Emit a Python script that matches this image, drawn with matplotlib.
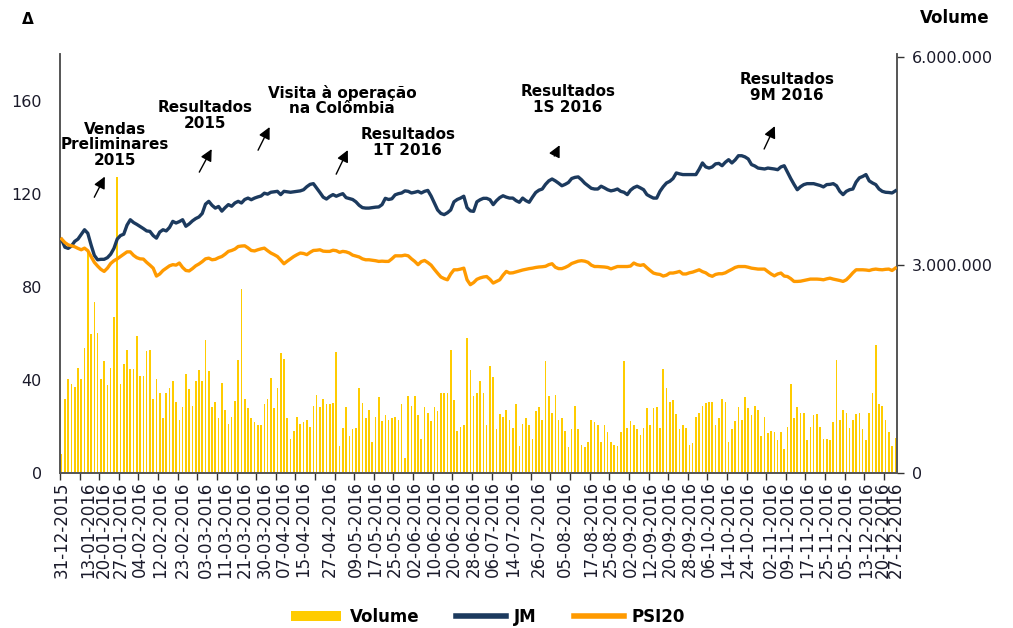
import matplotlib
matplotlib.use("Agg")
import matplotlib.pyplot as plt
from matplotlib.patches import Patch
from matplotlib.lines import Line2D
from matplotlib.ticker import FuncFormatter, FixedLocator
import pandas as pd

plt.rcParams['font.family'] = ['DejaVu Sans']

# ---- trading days (Euronext Lisbon) ----
start_date = "2015-12-31"
end_date = "2016-12-27"
holidays = ["2016-01-01", "2016-03-25", "2016-12-26"]

tick_dates = ["31-12-2015", "13-01-2016", "20-01-2016", "27-01-2016", "04-02-2016",
              "12-02-2016", "23-02-2016", "03-03-2016", "11-03-2016", "21-03-2016",
              "30-03-2016", "07-04-2016", "15-04-2016", "27-04-2016", "09-05-2016",
              "17-05-2016", "25-05-2016", "02-06-2016", "10-06-2016", "20-06-2016",
              "28-06-2016", "06-07-2016", "14-07-2016", "26-07-2016", "05-08-2016",
              "17-08-2016", "25-08-2016", "02-09-2016", "12-09-2016", "20-09-2016",
              "28-09-2016", "06-10-2016", "14-10-2016", "24-10-2016", "02-11-2016",
              "09-11-2016", "17-11-2016", "25-11-2016", "05-12-2016", "13-12-2016",
              "20-12-2016", "27-12-2016"]

jm = [100.2, 97.0, 96.5, 97.5, 99.5, 100.5, 102.5, 104.5, 103.0, 98.0,
      93.5, 91.6, 91.8, 91.8, 92.5, 94.0, 96.5, 100.5, 102.0, 102.6,
      106.5, 108.8, 107.6, 106.8, 105.9, 105.0, 104.0, 103.8, 102.0, 100.9,
      103.5, 104.5, 104.0, 105.5, 108.1, 107.4, 108.0, 108.8, 106.0, 107.0,
      108.3, 109.3, 110.0, 111.5, 115.5, 116.7, 115.0, 113.8, 114.5, 112.5,
      114.0, 115.3, 114.6, 116.0, 116.7, 116.0, 117.5, 118.1, 117.4, 118.1,
      118.6, 119.0, 120.2, 119.8, 120.6, 120.8, 121.0, 119.6, 121.0, 120.8,
      120.6, 120.8, 121.0, 121.2, 121.7, 123.0, 124.0, 124.3, 122.4, 120.5,
      118.5, 117.7, 118.8, 119.6, 118.9, 119.5, 120.0, 118.3, 117.9, 117.5,
      116.5, 115.0, 114.0, 113.8, 113.8, 114.0, 114.2, 114.3, 115.3, 118.0,
      117.5, 117.8, 119.5, 120.0, 120.3, 121.2, 121.0, 120.3, 120.6, 121.0,
      120.3, 121.0, 121.4, 119.0, 116.0, 113.0, 111.5, 111.0, 111.8, 113.0,
      116.5, 117.5, 118.1, 118.9, 114.0, 112.6, 112.4, 116.5, 117.4, 118.0,
      118.0, 117.4, 115.3, 117.0, 118.3, 119.1, 118.5, 118.1, 118.1, 117.0,
      116.3, 118.1, 117.0, 116.3, 118.5, 120.5, 121.5, 122.0, 124.0, 125.5,
      126.3, 125.5, 124.5, 123.4, 124.0, 124.8, 126.5, 127.0, 127.2, 126.0,
      124.5, 123.4, 122.3, 122.0, 122.0, 123.2, 122.5, 121.7, 121.2, 121.5,
      122.0, 121.0, 120.6, 119.6, 121.5, 122.6, 123.2, 122.5, 121.7, 119.6,
      118.8, 118.1, 118.1, 121.0, 123.0, 124.6, 125.3, 126.5, 128.9, 128.5,
      128.2, 128.2, 128.2, 128.2, 128.2, 130.5, 133.2, 131.5, 131.0, 131.5,
      132.8, 133.0, 132.0, 133.5, 134.6, 133.2, 134.5, 136.3, 136.3, 135.8,
      134.9, 132.5, 131.9, 131.0, 130.8, 130.6, 131.0, 130.8, 130.6, 130.3,
      131.5, 132.0, 129.2, 126.5, 124.0, 121.7, 123.0, 123.9, 124.3, 124.3,
      124.3, 123.9, 123.5, 122.9, 123.9, 124.0, 124.3, 123.4, 121.0, 119.6,
      121.0, 121.7, 122.0, 125.0, 126.8, 127.4, 128.2, 125.5, 124.6, 123.9,
      122.0, 121.0, 120.6, 120.5, 120.3, 121.2]

psi20 = [100.5, 99.0, 98.0, 97.6, 97.2, 96.5, 95.9, 96.6, 95.5, 93.0,
         90.5, 88.9, 87.5, 86.6, 88.0, 90.0, 91.2, 92.0, 93.0, 94.0,
         95.0, 95.0, 93.5, 92.5, 92.0, 91.9, 90.5, 89.3, 88.0, 84.6,
         85.5, 87.0, 88.0, 89.0, 89.5, 89.3, 90.2, 88.3, 87.0, 86.8,
         87.8, 89.0, 89.8, 90.8, 92.0, 92.3, 91.6, 91.8, 92.5, 93.0,
         94.0, 95.2, 95.6, 96.2, 97.3, 97.5, 97.6, 96.7, 95.6, 95.4,
         95.9, 96.3, 96.6, 95.5, 94.5, 93.8, 93.0, 91.5, 89.9, 91.0,
         92.0, 93.0, 93.8, 94.5, 94.3, 93.8, 94.8, 95.6, 95.7, 95.9,
         95.3, 95.2, 95.2, 95.7, 95.5, 94.8, 95.2, 95.0, 94.5, 93.6,
         93.2, 92.8, 92.0, 91.6, 91.6, 91.4, 91.2, 90.9, 91.0, 90.9,
         90.9, 92.0, 93.3, 93.3, 93.3, 93.6, 93.3, 92.0, 90.9, 89.5,
         90.8, 91.3, 90.4, 89.3, 87.5, 85.8, 84.2, 83.5, 83.0, 85.5,
         87.3, 87.3, 87.6, 88.0, 83.0, 80.9, 81.8, 83.2, 83.8, 84.2,
         84.4, 83.2, 81.6, 82.3, 83.0, 85.0, 86.6, 85.9, 86.0, 86.4,
         86.8, 87.2, 87.5, 87.8, 88.0, 88.3, 88.5, 88.6, 88.8, 89.5,
         89.9, 88.4, 87.8, 87.8, 88.3, 89.0, 90.0, 90.5, 91.0, 91.2,
         91.0, 90.5, 89.3, 88.7, 88.7, 88.6, 88.5, 88.3, 87.7, 88.2,
         88.7, 88.7, 88.7, 88.7, 88.9, 90.2, 89.5, 89.2, 89.5, 88.2,
         87.0, 85.9, 85.5, 85.3, 84.6, 85.0, 85.9, 85.9, 86.2, 86.6,
         85.5, 85.5, 86.0, 86.3, 86.8, 87.3, 86.5, 86.0, 85.0, 84.5,
         85.3, 85.6, 85.6, 86.0, 86.8, 87.5, 88.3, 88.7, 88.7, 88.7,
         88.4, 88.0, 87.8, 87.6, 87.6, 87.6, 86.5, 85.5, 84.7, 85.5,
         85.9, 84.6, 84.4, 83.5, 82.3, 82.3, 82.4, 82.7, 83.0, 83.3,
         83.3, 83.3, 83.2, 83.0, 83.4, 83.7, 83.3, 83.0, 82.7, 82.3,
         83.0, 84.4, 86.0, 87.3, 87.3, 87.3, 87.2, 87.0, 87.4, 87.6,
         87.4, 87.3, 87.5, 87.6, 87.0, 88.0]

# volume in millions of shares
volume_m = [0.28, 1.07, 1.35, 1.28, 1.24, 1.52, 1.35, 1.80, 3.19, 2.00,
            2.47, 2.02, 1.35, 1.61, 1.27, 1.52, 2.25, 4.26, 1.28, 1.57,
            1.78, 1.50, 1.50, 1.98, 1.40, 1.40, 1.76, 1.78, 1.07, 1.35,
            1.16, 0.79, 1.15, 1.22, 1.33, 1.03, 0.77, 0.95, 1.42, 1.21,
            0.97, 1.33, 1.49, 1.33, 1.92, 1.47, 0.95, 1.02, 0.79, 1.30,
            0.91, 0.71, 0.81, 1.04, 1.63, 2.65, 1.07, 0.93, 0.79, 0.73,
            0.69, 0.69, 0.99, 1.07,
            1.37, 0.93, 1.23, 1.73, 1.64, 0.79, 0.49, 0.61, 0.81, 0.71,
            0.73, 0.77, 0.67, 0.97, 1.12, 0.95, 1.07, 0.99, 0.99, 1.01,
            1.75, 0.39, 0.65, 0.95, 0.53, 0.63, 0.65, 1.23, 1.01, 0.79,
            0.91, 0.45, 0.81, 1.09, 0.75, 0.83, 0.77, 0.79, 0.81, 0.77,
            0.99, 0.21, 1.11, 0.97, 1.11, 0.83, 0.49, 0.95, 0.87, 0.75,
            0.95, 0.89, 1.15, 1.15, 1.15, 1.78, 1.05, 0.61, 0.67, 0.69,
            1.94, 1.49, 1.11, 1.15,
            1.33, 1.15, 0.69, 1.54, 1.38, 0.63, 0.85, 0.81, 0.91, 0.77,
            0.65, 0.99, 0.39, 0.71, 0.79, 0.69, 0.49, 0.89, 0.95, 0.77,
            1.61, 1.11, 0.87, 1.12, 0.77, 0.79, 0.61, 0.37, 0.63, 0.97,
            0.63, 0.41, 0.37, 0.45, 0.77, 0.73, 0.69, 0.45, 0.69, 0.59,
            0.45, 0.41, 0.39, 0.59, 1.61, 0.65, 0.75, 0.69, 0.63, 0.55,
            0.65, 0.93, 0.69, 0.93, 0.95, 0.65, 1.50, 1.23, 1.03, 1.05,
            0.85, 0.63, 0.69, 0.65,
            0.41, 0.43, 0.81, 0.87, 0.97, 1.01, 1.03, 1.03, 0.69, 0.79,
            1.07, 1.03, 0.45, 0.63, 0.75, 0.95, 0.77, 1.09, 0.93, 0.83,
            0.97, 0.91, 0.53, 0.81, 0.57, 0.61, 0.59, 0.47, 0.59, 0.35,
            0.67, 1.28, 0.79, 0.95, 0.87, 0.87, 0.47, 0.67, 0.83, 0.85,
            0.67, 0.49, 0.49, 0.47, 0.73, 1.63, 0.77, 0.91, 0.87, 0.65,
            0.77, 0.85, 0.87, 0.63, 0.47, 0.87, 1.16, 1.84, 0.99, 0.97,
            0.77, 0.59, 0.39, 0.51]

left_ticks = [0, 40, 80, 120, 160]
right_ticks_m = [0, 3, 6]

C_JM = "#1c3a5e"
C_PSI = "#ff9a00"
C_VOL = "#ffcc00"
C_TXT = "#1a1a2a"

dates = pd.bdate_range(start_date, end_date, freq="C", holidays=holidays)
n = len(dates)
xs = list(range(n))
date_index = {d.strftime("%d-%m-%Y"): i for i, d in enumerate(dates)}
tick_pos = [date_index[t] for t in tick_dates]

fig = plt.figure(figsize=(10.13, 6.28), dpi=100)
ax = fig.add_axes([60 / 1013, 1 - 473 / 628, 837 / 1013, 419 / 628])
axv = ax.twinx()

# volume bars (right axis)
axv.bar(xs, volume_m, width=0.5, color=C_VOL, edgecolor="none", zorder=1)
axv.set_ylim(0, 6.04)
axv.yaxis.set_major_locator(FixedLocator(right_ticks_m))
axv.yaxis.set_major_formatter(FuncFormatter(lambda v, p: f"{v * 1e6:,.0f}".replace(",", ".")))

# lines (left axis) on top
ax.set_zorder(axv.get_zorder() + 1)
ax.patch.set_visible(False)
ax.plot(xs, jm, color=C_JM, lw=2.4, solid_joinstyle="round", zorder=3)
ax.plot(xs, psi20, color=C_PSI, lw=2.4, solid_joinstyle="round", zorder=3)
ax.set_ylim(0, 180)
ax.set_yticks(left_ticks)
ax.set_xlim(-0.5, n - 0.5)

# x ticks: labels at dates, tick marks every 6 trading days
ax.set_xticks(tick_pos)
ax.set_xticklabels(tick_dates, rotation=90, fontsize=12, color=C_TXT)
ax.tick_params(axis="x", which="major", length=0, pad=6)
ax.set_xticks([k - 0.5 for k in range(0, n + 1, 6)], minor=True)
ax.tick_params(axis="x", which="minor", length=5, width=1, color="#333333", direction="out")

ax.tick_params(axis="y", labelsize=11.5, labelcolor=C_TXT, length=0, pad=13)
axv.tick_params(axis="y", labelsize=11.5, labelcolor=C_TXT, length=5, width=1,
                color="#333333", pad=6)

for a in (ax, axv):
    a.spines["top"].set_visible(False)
    for s in ("left", "right", "bottom"):
        a.spines[s].set_color("#555555")
        a.spines[s].set_linewidth(1.2)

# annotations
ann_kw = dict(fontsize=11, fontweight="bold", color="black", ha="center", va="center",
              linespacing=1.05)
arrow_kw = dict(arrowstyle="-|>,head_length=0.7,head_width=0.35", color="black", lw=1)

events = [
    ("Vendas\nPreliminares\n2015", (16.3, 141.0), (9.6, 117.4), (13.6, 128.4), "center"),
    ("Resultados\n2015", (43.8, 153.5), (41.7, 128.2), (46.3, 140.2), "center"),
    ("Visita à operação\nna Colômbia", (63.1, 160.0), (59.7, 137.6), (64.0, 149.7), "left"),
    ("Resultados\n1T 2016", (105.9, 141.9), (83.6, 127.3), (87.9, 139.8), "center"),
    ("Resultados\n1S 2016", (154.9, 160.4), (150.3, 135.1), (152.7, 141.9), "center"),
    ("Resultados\n9M 2016", (221.8, 165.6), (214.5, 138.1), (218.5, 150.1), "center"),
]
for txt, tpos, tail, head, ha in events:
    kw = dict(ann_kw)
    kw["ha"] = ha
    kw["multialignment"] = "center"
    ax.text(tpos[0], tpos[1], txt, **kw, zorder=5)
    ax.annotate("", xy=head, xytext=tail, arrowprops=arrow_kw, zorder=5)

# axis titles
fig.text(28 / 1013, 1 - 20 / 628, "Δ", fontsize=11, fontweight="bold", ha="center", va="center")
fig.text(955 / 1013, 1 - 18 / 628, "Volume", fontsize=12, fontweight="bold", ha="center", va="center")

# legend
handles = [Patch(facecolor=C_VOL, edgecolor="none"),
           Line2D([], [], color=C_JM, lw=4),
           Line2D([], [], color=C_PSI, lw=4)]
fig.legend(handles, ["Volume", "JM", "PSI20"], loc="center", bbox_to_anchor=(0.482, 0.018),
           ncol=3, frameon=False, prop={"weight": "bold", "size": 12},
           handlelength=3.0, handleheight=0.5, columnspacing=2.2, handletextpad=0.5)

fig.savefig("out.png", dpi=100)
